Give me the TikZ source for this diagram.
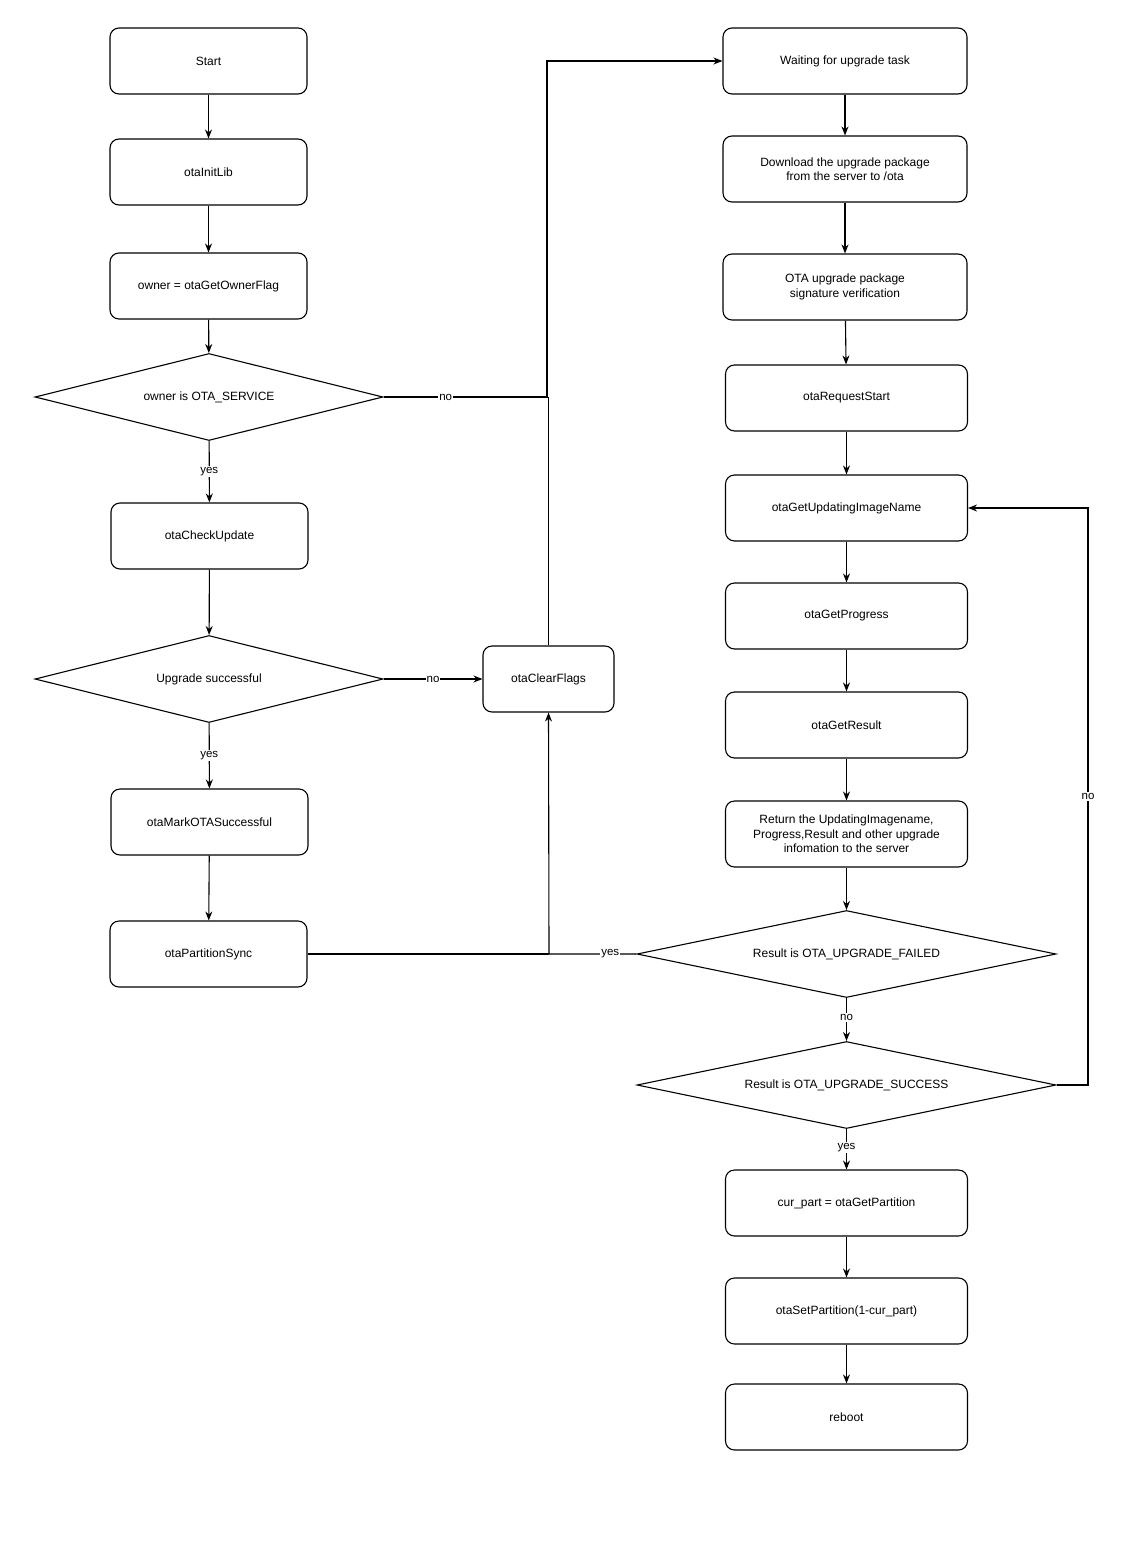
\documentclass[tikz,border=0pt]{standalone}
\usepackage{fontspec}
\setmainfont{Liberation Sans}
\usetikzlibrary{shapes.geometric,arrows.meta}
\begin{document}
\begin{tikzpicture}[x=1pt,y=-1pt,
  font=\fontsize{12}{14.5}\selectfont,
  every path/.style={line width=1.1pt},
  box/.style={draw,rounded corners=9pt,minimum width=197pt,minimum height=66pt,align=center,inner sep=2pt},
  rbox/.style={box,minimum width=242pt},
  dia/.style={draw,diamond,aspect=4,inner sep=0pt,minimum width=#1,minimum height=87pt},
  arr/.style={-{Stealth[length=9pt,width=7pt]}},
  lab/.style={fill=white,inner sep=1pt,font=\fontsize{11.5}{13}\selectfont}]
\useasboundingbox (0,0) rectangle (1122,1544);
\node[box] (start) at (208.5,61) {Start};
\node[box] (init) at (208.5,172) {otaInitLib};
\node[box] (owner) at (208.5,286) {owner = otaGetOwnerFlag};
\node[draw,diamond,inner sep=0pt,minimum width=348pt,minimum height=87pt,aspect=4] (d1) at (209,397) {owner is OTA\_SERVICE};
\node[box] (check) at (209.5,536) {otaCheckUpdate};
\node[draw,diamond,inner sep=0pt,minimum width=348pt,minimum height=87pt,aspect=4] (d2) at (209,679) {Upgrade successful};
\node[box] (mark) at (209.5,822) {otaMarkOTASuccessful};
\node[box] (sync) at (208.5,954) {otaPartitionSync};
\node[box,minimum width=131pt] (clear) at (548.5,679) {otaClearFlags};
\node[box,minimum width=244pt] (wait) at (845,61) {Waiting for upgrade task};
\node[box,minimum width=244pt] (down) at (845,169) {Download the upgrade package\\from the server to /ota};
\node[box,minimum width=244pt] (sig) at (845,287) {OTA upgrade package\\ signature verification};
\node[rbox] (req) at (846.5,398) {otaRequestStart};
\node[rbox] (img) at (846.5,508) {otaGetUpdatingImageName};
\node[rbox] (prog) at (846.5,616) {otaGetProgress};
\node[rbox] (res) at (846.5,725) {otaGetResult};
\node[rbox] (ret) at (846.5,834) {Return the UpdatingImagename,\\Progress,Result and other upgrade\\infomation to the server};
\node[draw,diamond,inner sep=0pt,minimum width=419pt,minimum height=87pt,aspect=4.8] (d3) at (846.5,954) {Result is OTA\_UPGRADE\_FAILED};
\node[draw,diamond,inner sep=0pt,minimum width=419pt,minimum height=87pt,aspect=4.8] (d4) at (846.5,1085) {Result is OTA\_UPGRADE\_SUCCESS};
\node[rbox] (cur) at (846.5,1203) {cur\_part = otaGetPartition};
\node[rbox] (setp) at (846.5,1311) {otaSetPartition(1-cur\_part)};
\node[rbox] (reb) at (846.5,1417) {reboot};
\coordinate (j1) at (547,397);
\coordinate (j2) at (547,61);
\coordinate (j3) at (549,954);
\coordinate (j4) at (1088,1085);
\coordinate (j5) at (1088,508);
\draw[arr] (start) -- (init);
\draw[arr] (init) -- (owner);
\draw[arr] (owner) -- (d1);
\draw[arr] (d1) -- node[lab]{yes} (check);
\draw[arr] (check) -- (d2);
\draw[arr] (d2) -- node[lab]{yes} (mark);
\draw[arr] (mark) -- (sync);
\draw[arr] (d1.east) -- node[lab,pos=0.38]{no} (j1) -- (j2) -- (wait.west);
\draw (clear.north) -- (clear.north |- j1);
\draw[arr] (d2.east) -- node[lab]{no} (clear.west);
\draw (sync.east) -- (j3);
\draw[arr] (d3.west) -- node[lab,pos=0.3]{yes} (j3) -- (clear.south);
\draw[arr] (wait) -- (down);
\draw[arr] (down) -- (sig);
\draw[arr] (sig) -- (req);
\draw[arr] (req) -- (img);
\draw[arr] (img) -- (prog);
\draw[arr] (prog) -- (res);
\draw[arr] (res) -- (ret);
\draw[arr] (ret) -- (d3);
\draw[arr] (d3) -- node[lab,pos=0.45]{no} (d4);
\draw[arr] (d4) -- node[lab,pos=0.45]{yes} (cur);
\draw[arr] (cur) -- (setp);
\draw[arr] (setp) -- (reb);
\draw[arr] (d4.east) -- (j4) -- node[lab]{no} (j5) -- (img.east);
\end{tikzpicture}
\end{document}
